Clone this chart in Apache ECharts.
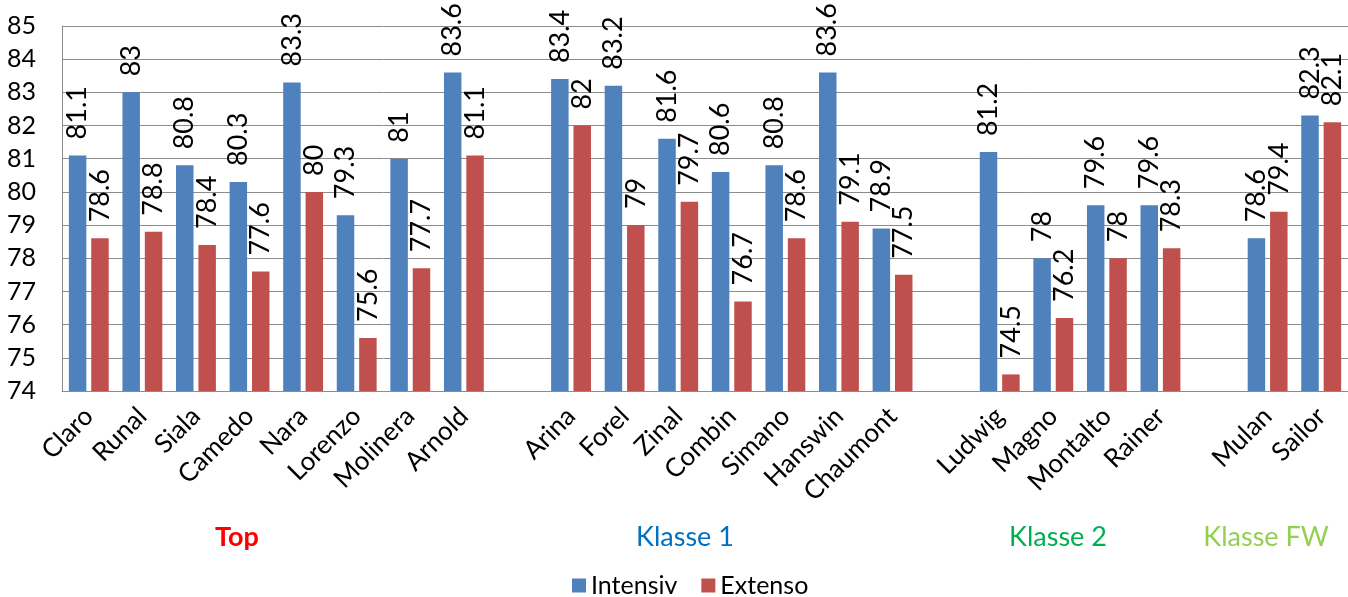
<!DOCTYPE html>
<html><head><meta charset="utf-8">
<script src="https://cdn.jsdelivr.net/npm/echarts@6/dist/echarts.min.js"></script>
<style>html,body{margin:0;padding:0;background:#fff}#c{width:1348px;height:597px}</style>
</head><body><div id="c"></div>
<script>
const categories = ['Claro','Runal','Siala','Camedo','Nara','Lorenzo','Molinera','Arnold','',
  'Arina','Forel','Zinal','Combin','Simano','Hanswin','Chaumont','',
  'Ludwig','Magno','Montalto','Rainer','',
  'Mulan','Sailor'];
const intensiv = [81.1,83,80.8,80.3,83.3,79.3,81,83.6,null,
  83.4,83.2,81.6,80.6,80.8,83.6,78.9,null,
  81.2,78,79.6,79.6,null,
  78.6,82.3];
const extenso = [78.6,78.8,78.4,77.6,80,75.6,77.7,81.1,null,
  82,79,79.7,76.7,78.6,79.1,77.5,null,
  74.5,76.2,78,78.3,null,
  79.4,82.1];
const groupNames = ['Top','Klasse 1','Klasse 2','Klasse FW'];
const seriesNames = ['Intensiv','Extenso'];

const FONT = 'Lato';
const chart = echarts.init(document.getElementById('c'));
const lbl = {show:true, position:'top', rotate:90, align:'left', verticalAlign:'middle', distance:16,
  fontFamily:FONT, fontSize:27, color:'#000', formatter: p => p.value == null ? '' : String(p.value)};
chart.setOption({
  animation:false,
  textStyle:{fontFamily:FONT},
  grid:{left:62, top:26, height:365, right:-8, containLabel:false},
  legend:{data:seriesNames, top:568, left:567, itemWidth:14, itemHeight:14, itemGap:24,
    icon:'rect', textStyle:{fontFamily:FONT, fontSize:25, color:'#000'}},
  xAxis:{type:'category', data:categories,
    axisLine:{lineStyle:{color:'#8c8c8c', width:1}}, axisTick:{show:false},
    axisLabel:{rotate:45, interval:0, margin:21, fontFamily:FONT, fontSize:26, color:'#000'}},
  yAxis:{type:'value', min:74, max:85, interval:1,
    axisLine:{show:true, lineStyle:{color:'#8c8c8c', width:1}}, axisTick:{show:false},
    splitLine:{lineStyle:{color:'#8c8c8c', width:1}},
    axisLabel:{margin:26, fontFamily:FONT, fontSize:25, color:'#000'}},
  series:[
    {name:seriesNames[0], type:'bar', data:intensiv, itemStyle:{color:'#4F81BD'},
      barGap:'28%', barCategoryGap:'25.6%', label:lbl},
    {name:seriesNames[1], type:'bar', data:extenso, itemStyle:{color:'#C0504D'}, label:lbl}
  ],
  graphic:[
    {type:'text', x:237, y:537, style:{text:groupNames[0], fill:'#FF0000', font:'bold 27px Lato', align:'center', verticalAlign:'middle'}},
    {type:'text', x:685, y:537, style:{text:groupNames[1], fill:'#0070C0', font:'27px Lato', align:'center', verticalAlign:'middle'}},
    {type:'text', x:1058, y:537, style:{text:groupNames[2], fill:'#00B050', font:'27px Lato', align:'center', verticalAlign:'middle'}},
    {type:'text', x:1266, y:537, style:{text:groupNames[3], fill:'#92D050', font:'27px Lato', align:'center', verticalAlign:'middle'}}
  ]
});
</script></body></html>
